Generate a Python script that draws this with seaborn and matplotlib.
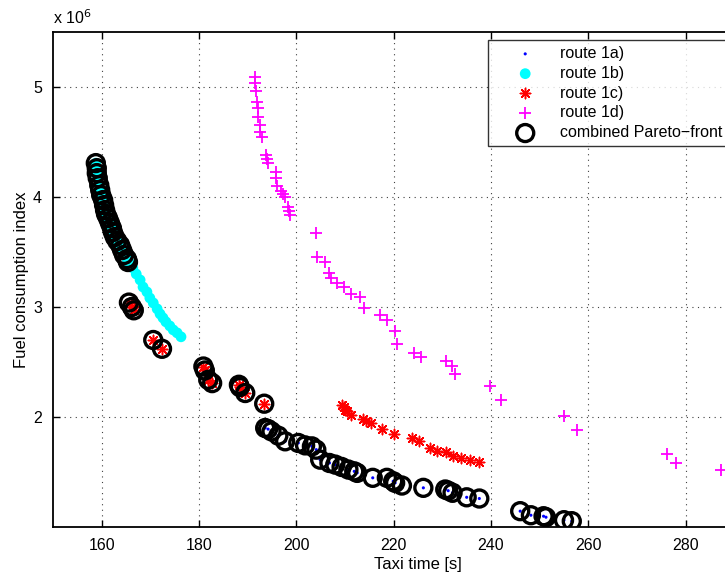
import matplotlib
matplotlib.use("Agg")
import matplotlib.pyplot as plt
import seaborn as sns
import pandas as pd

# ---- data (y in units of 1e6) ----
r1a_x = [193.6, 194.2, 194.9, 196.3, 197.7, 200.4, 201.8, 203.2, 204.1, 204.9, 206.8, 208.0,
         209.3, 210.7, 211.9, 212.5, 215.7, 218.6, 219.9, 220.3, 221.7, 226.1, 230.6, 231.2,
         232.1, 235.0, 237.6, 246.0, 248.2, 250.8, 251.3, 255.0, 256.6]
r1a_y = [1.900, 1.890, 1.869, 1.830, 1.779, 1.764, 1.742, 1.733, 1.703, 1.612, 1.582, 1.567,
         1.546, 1.522, 1.506, 1.492, 1.447, 1.447, 1.416, 1.401, 1.377, 1.356, 1.341, 1.330,
         1.311, 1.270, 1.259, 1.144, 1.107, 1.098, 1.089, 1.062, 1.053]

r1b_x = [158.8, 159.0, 159.0, 159.2, 159.5, 159.7, 159.9, 160.3, 160.5, 160.7, 160.9, 161.3,
         161.7, 162.1, 162.3, 162.7, 163.2, 163.8, 164.2, 164.6, 165.2, 165.4,
         165.6, 166.4, 167.1, 167.9, 168.5, 169.3, 169.9, 170.6, 171.4, 172.0, 172.6, 173.2,
         174.0, 174.7, 175.5, 176.3]
r1b_y = [4.308, 4.262, 4.217, 4.171, 4.108, 4.063, 4.017, 3.972, 3.926, 3.881, 3.845, 3.808,
         3.763, 3.718, 3.681, 3.636, 3.600, 3.563, 3.518, 3.473, 3.436, 3.409,
         3.409, 3.355, 3.300, 3.246, 3.182, 3.137, 3.082, 3.037, 2.983, 2.937, 2.901, 2.865,
         2.828, 2.792, 2.765, 2.729]

r1c_x = [165.6, 166.2, 166.6, 170.6, 172.4, 180.9, 181.2, 181.9, 182.7, 188.2, 188.4, 189.5,
         193.4, 209.3, 209.7, 210.0, 210.4, 211.2, 213.8, 214.3, 215.3, 217.5, 220.1, 223.7,
         225.3, 227.5, 228.9, 230.8, 232.1, 233.8, 235.6, 237.6]
r1c_y = [3.040, 3.000, 2.970, 2.700, 2.620, 2.459, 2.423, 2.338, 2.308, 2.293, 2.272, 2.218,
         2.121, 2.112, 2.091, 2.066, 2.051, 2.021, 1.982, 1.966, 1.945, 1.891, 1.848, 1.809,
         1.785, 1.719, 1.688, 1.679, 1.649, 1.628, 1.606, 1.588]

r1d_x = [191.5, 191.5, 191.7, 192.0, 192.1, 192.1, 192.5, 192.6, 193.0, 193.8, 194.0, 194.2,
         195.8, 195.9, 196.0, 196.9, 197.3, 197.7, 198.2, 198.4, 198.8, 204.0, 204.3, 205.8,
         206.7, 207.1, 208.3, 209.7, 211.3, 213.1, 213.9, 217.1, 218.7, 220.2, 220.6, 224.2,
         225.6, 230.7, 231.9, 232.7, 239.8, 242.1, 254.9, 257.7, 276.1, 278.0, 287.3]
r1d_y = [5.088, 5.034, 4.961, 4.864, 4.807, 4.725, 4.652, 4.594, 4.546, 4.380, 4.344, 4.310,
         4.226, 4.172, 4.099, 4.054, 4.026, 4.002, 3.911, 3.875, 3.836, 3.675, 3.457, 3.412,
         3.312, 3.267, 3.216, 3.182, 3.121, 3.089, 2.995, 2.926, 2.883, 2.783, 2.665, 2.586,
         2.550, 2.505, 2.465, 2.387, 2.278, 2.151, 2.012, 1.878, 1.661, 1.583, 1.515]

pareto_x = r1b_x[:22] + r1c_x[:13] + r1a_x
pareto_y = r1b_y[:22] + r1c_y[:13] + r1a_y

x_ticks = [160, 180, 200, 220, 240, 260, 280]
y_ticks = [2, 3, 4, 5]

sns.set_theme(style="white")
plt.rcParams['font.family'] = ['Liberation Sans', 'DejaVu Sans']
plt.rcParams['text.color'] = 'black'
plt.rcParams['axes.labelcolor'] = 'black'
plt.rcParams['xtick.color'] = 'black'
plt.rcParams['ytick.color'] = 'black'

fig = plt.figure(figsize=(7.25, 5.73), dpi=100)
ax = fig.add_axes([53 / 725, (573 - 527) / 573, 730 / 725, 495 / 573])

df_a = pd.DataFrame({"x": r1a_x, "y": r1a_y})
df_b = pd.DataFrame({"x": r1b_x, "y": r1b_y})
df_c = pd.DataFrame({"x": r1c_x, "y": r1c_y})
df_d = pd.DataFrame({"x": r1d_x, "y": r1d_y})
df_p = pd.DataFrame({"x": pareto_x, "y": pareto_y})

sns.scatterplot(data=df_a, x="x", y="y", ax=ax, marker="o", s=5, color="#0000ff",
                edgecolor="none", label="route 1a)", zorder=3)
sns.scatterplot(data=df_b, x="x", y="y", ax=ax, marker="o", s=60, color="#00ffff",
                edgecolor="none", label="route 1b)", zorder=2)
sns.scatterplot(data=df_c, x="x", y="y", ax=ax, marker=(8, 2, 0), s=55, color="#ff0000",
                linewidth=1.1, label="route 1c)", zorder=3)
sns.scatterplot(data=df_d, x="x", y="y", ax=ax, marker="+", s=70, color="#ff00ff",
                linewidth=1.3, label="route 1d)", zorder=3)
sns.scatterplot(data=df_p, x="x", y="y", ax=ax, marker="o", s=150, facecolor="none",
                edgecolor="black", linewidth=2.4, label="combined Pareto\u2212front", zorder=4)

ax.set_xlim(150, 300)
ax.set_ylim(1.0, 5.5)
ax.set_xticks(x_ticks)
ax.set_yticks(y_ticks)
ax.set_xticklabels([str(t) for t in x_ticks])
ax.set_yticklabels([str(t) for t in y_ticks])
ax.tick_params(axis="both", direction="in", length=5, width=1, labelsize=11.5,
               top=True, right=True, bottom=True, left=True, color="black",
               labelcolor="black", pad=8)
ax.grid(True, linestyle=(0, (1, 4)), color="0.25", linewidth=0.8)
for sp in ax.spines.values():
    sp.set_color("black")
    sp.set_linewidth(1.3)

ax.set_xlabel("Taxi time [s]", fontsize=12, labelpad=3, color="black")
ax.set_ylabel("Fuel consumption index", fontsize=12, labelpad=3, color="black")
ax.text(0.0, 1.01, "x 10$^{6}$", transform=ax.transAxes, fontsize=11.5,
        ha="left", va="bottom", color="black")

leg = ax.legend(loc="upper left", bbox_to_anchor=((488 - 53) / 730, 1 - (40 - 32) / 495),
                borderaxespad=0, fontsize=11.5, frameon=True, fancybox=False,
                labelspacing=0.3, handletextpad=0.2, borderpad=0.38, handlelength=3.9)
leg.get_frame().set_edgecolor("black")
leg.get_frame().set_linewidth(1.0)
for t in leg.get_texts():
    t.set_color("black")

fig.savefig("out.png", dpi=100)
